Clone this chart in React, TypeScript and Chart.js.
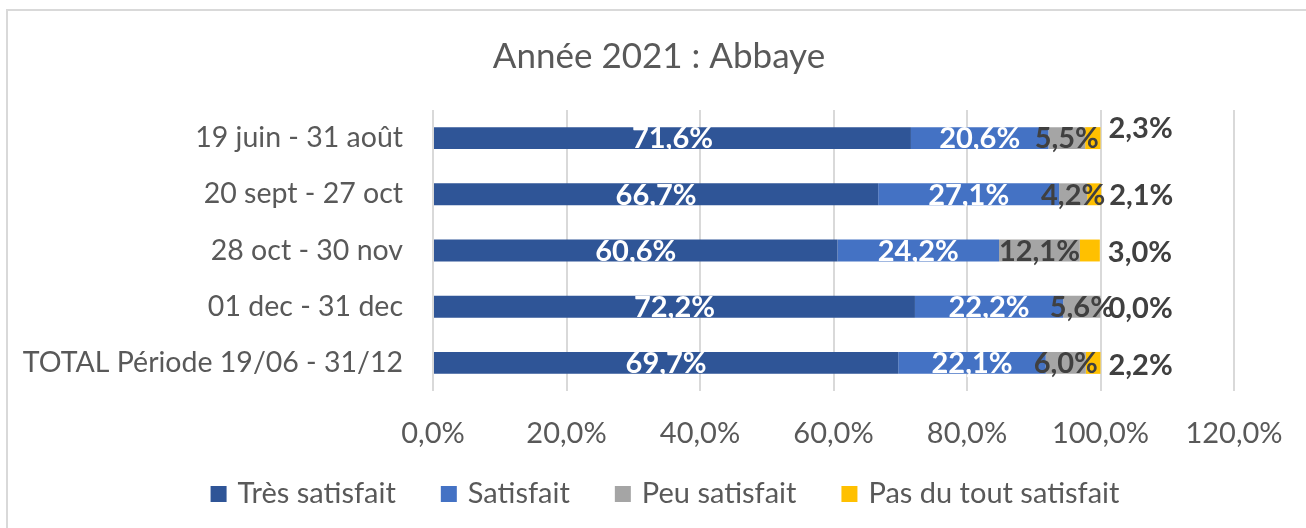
import React, { useEffect, useRef } from "react";
import { Chart, registerables } from "chart.js";

Chart.register(...registerables);

const categories = [
  "19 juin - 31 août",
  "20 sept - 27 oct",
  "28 oct - 30 nov",
  "01 dec - 31 dec",
  "TOTAL Période 19/06 - 31/12",
];
const tresSatisfait = [71.6, 66.7, 60.6, 72.2, 69.7];
const satisfait = [20.6, 27.1, 24.2, 22.2, 22.1];
const peuSatisfait = [5.5, 4.2, 12.1, 5.6, 6.0];
const pasDuToutSatisfait = [2.3, 2.1, 3.0, 0.0, 2.2];
const seriesNames = ["Très satisfait", "Satisfait", "Peu satisfait", "Pas du tout satisfait"];
const seriesColors = ["#2F5597", "#4472C4", "#A5A5A5", "#FFC000"];
const xMin = 0;
const xMax = 120;
const xStep = 20;
const title = "Année 2021 : Abbaye";

const FONT = "Lato, Carlito, 'Open Sans', sans-serif";
const FS = 29;
const OUT_DY = [-9, 1, 2, 2, 3];

const fmt = (v: number) => v.toFixed(1).replace(".", ",") + "%";

const labelPlugin = {
  id: "barLabels",
  afterDatasetsDraw(chart: any) {
    const ctx = chart.ctx;
    ctx.save();
    ctx.font = `bold ${FS}px ${FONT}`;
    ctx.textBaseline = "middle";
    chart.data.datasets.forEach((ds: any, di: number) => {
      const meta = chart.getDatasetMeta(di);
      meta.data.forEach((bar: any, i: number) => {
        const v = ds.data[i] as number;
        const text = fmt(v);
        const { x, y, base } = bar.getProps(["x", "y", "base"], true);
        if (di === 3) {
          ctx.textAlign = "left";
          ctx.fillStyle = "#404040";
          ctx.fillText(text, x + 8, y + OUT_DY[i]);
        } else {
          ctx.textAlign = "center";
          ctx.fillStyle = di === 2 ? "#404040" : "#FFFFFF";
          ctx.fillText(text, (x + base) / 2, y + 1);
        }
      });
    });
    ctx.restore();
  },
};

const legendPlugin = {
  id: "customLegend",
  afterDraw(chart: any) {
    const ctx = chart.ctx;
    ctx.save();
    ctx.font = `${FS}px ${FONT}`;
    ctx.textBaseline = "middle";
    ctx.textAlign = "left";
    const box = 16;
    const gapText = 11;
    const gapItem = 45;
    const widths = seriesNames.map((n) => box + gapText + ctx.measureText(n).width);
    const total = widths.reduce((a, b) => a + b, 0) + gapItem * (seriesNames.length - 1);
    let x = chart.width / 2 + 6 - total / 2;
    const cy = 483;
    seriesNames.forEach((n, i) => {
      ctx.fillStyle = seriesColors[i];
      ctx.fillRect(x, cy - box / 2, box, box);
      ctx.fillStyle = "#595959";
      ctx.fillText(n, x + box + gapText, cy);
      x += widths[i] + gapItem;
    });
    ctx.restore();
  },
};

export default function App() {
  const ref = useRef<HTMLCanvasElement | null>(null);
  useEffect(() => {
    if (!ref.current) return;
    const chart = new Chart(ref.current, {
      type: "bar",
      data: {
        labels: categories,
        datasets: [tresSatisfait, satisfait, peuSatisfait, pasDuToutSatisfait].map((d, i) => ({
          label: seriesNames[i],
          data: d,
          backgroundColor: seriesColors[i],
          borderWidth: 0,
          barPercentage: 0.39,
          categoryPercentage: 1,
        })),
      },
      options: {
        indexAxis: "y",
        animation: false,
        responsive: false,
        maintainAspectRatio: false,
        layout: { padding: { left: 0, right: 0, top: 0, bottom: 75 } },
        plugins: {
          tooltip: { enabled: false },
          title: {
            display: true,
            text: title,
            color: "#595959",
            font: { family: FONT, size: 35, weight: "normal" },
            padding: { top: 25, bottom: 32 },
          },
          legend: { display: false },
        },
        scales: {
          x: {
            stacked: true,
            min: xMin,
            max: xMax,
            ticks: {
              stepSize: xStep,
              color: "#595959",
              font: { family: FONT, size: FS },
              padding: 25,
              callback: (v: any) => fmt(Number(v)),
              maxRotation: 0,
            },
            grid: { color: "#D9D9D9", lineWidth: 2, drawTicks: false },
            border: { display: false },
            afterFit: (s: any) => {
              s.height = 62;
            },
          },
          y: {
            stacked: true,
            ticks: {
              color: "#595959",
              font: { family: FONT, size: 28.5 },
              padding: 22,
            },
            grid: { display: false },
            border: { display: false },
            afterFit: (s: any) => {
              s.width = 425;
            },
          },
          yRight: {
            type: "category",
            axis: "y",
            position: "right",
            display: true,
            ticks: { display: false },
            grid: { display: false },
            border: { display: false },
            afterFit: (s: any) => {
              s.width = 76;
            },
          },
        },
      },
      plugins: [labelPlugin, legendPlugin],
    });
    return () => chart.destroy();
  }, []);
  return (
    <div
      style={{
        position: "fixed",
        left: 6,
        top: 9,
        width: 1310,
        height: 530,
        borderLeft: "2px solid #D9D9D9",
        borderTop: "2px solid #D9D9D9",
        background: "#FFFFFF",
      }}
    >
      <canvas ref={ref} width={1302} height={517} style={{ display: "block", width: 1302, height: 517 }} />
    </div>
  );
}
